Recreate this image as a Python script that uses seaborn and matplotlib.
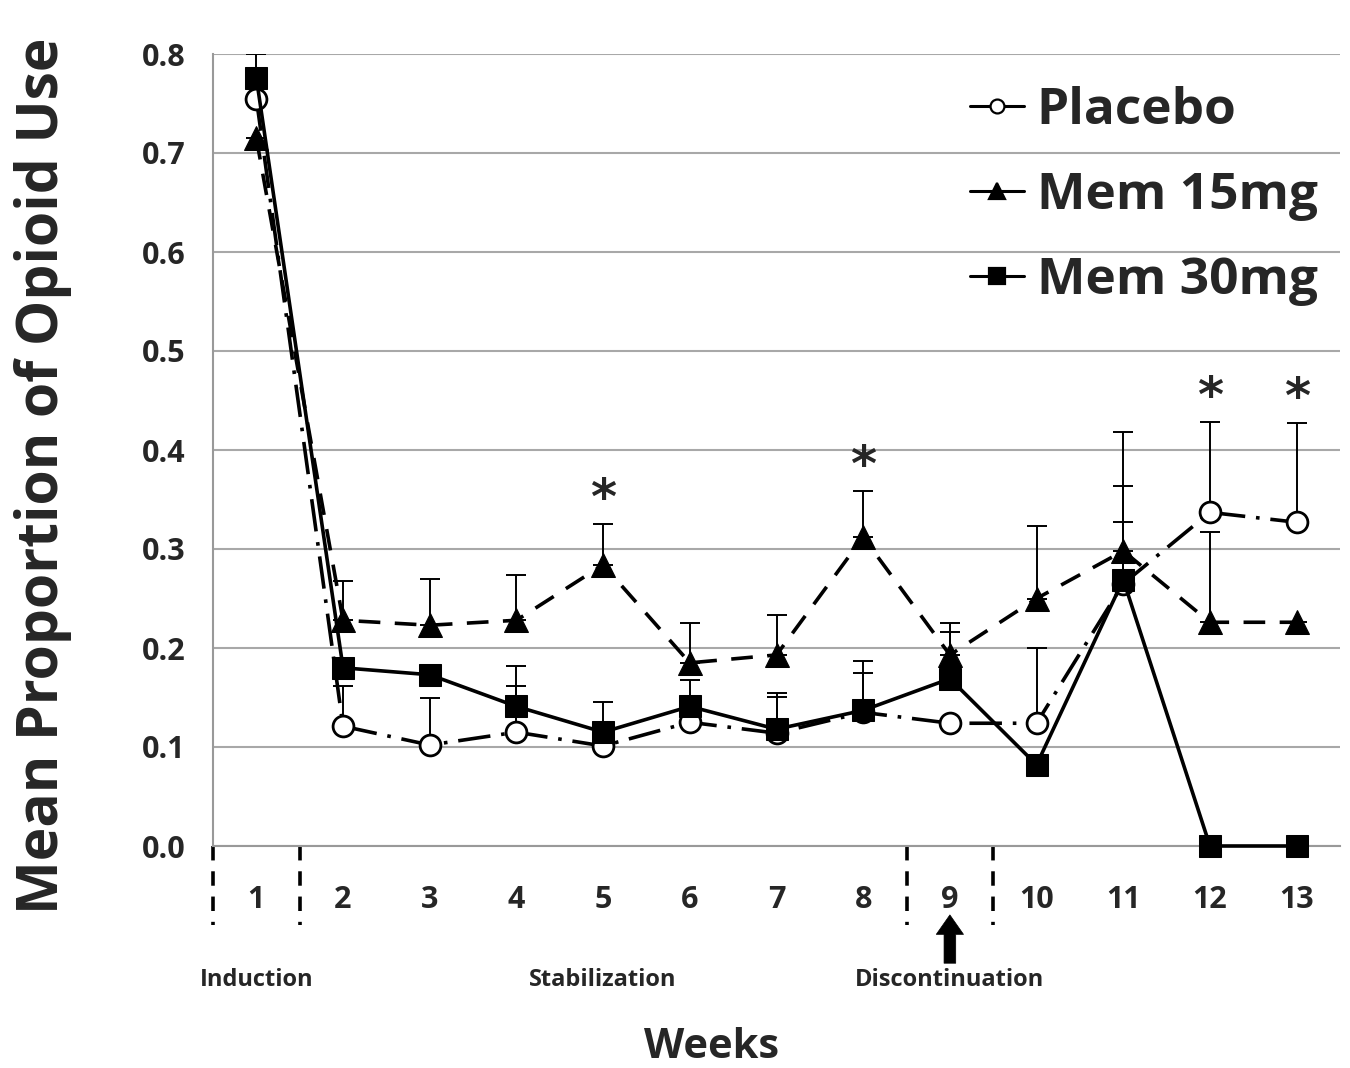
import numpy as np
import pandas as pd
import matplotlib
matplotlib.use("Agg")
import matplotlib.pyplot as plt
from matplotlib.lines import Line2D
import seaborn as sns

nan = np.nan
weeks = list(range(1, 14))
week_labels = [str(w) for w in weeks]
series_names = ["Placebo", "Mem 15mg", "Mem 30mg"]
placebo = [0.755, 0.121, 0.102, 0.115, 0.101, 0.125, 0.114, 0.135, 0.124, 0.124, 0.265, 0.337, 0.327]
mem15 = [0.715, 0.228, 0.223, 0.228, 0.284, 0.185, 0.193, 0.312, 0.193, 0.250, 0.298, 0.226, 0.226]
mem30 = [0.776, 0.180, 0.173, 0.141, 0.115, 0.141, 0.118, 0.137, 0.169, 0.082, 0.269, 0.000, 0.000]
# upper end of the error bars (nan = not visible)
placebo_top = [nan, 0.162, 0.150, 0.162, nan, 0.168, 0.151, 0.175, nan, 0.200, 0.364, 0.428, 0.427]
mem15_top = [nan, 0.268, 0.270, 0.274, 0.325, 0.225, 0.233, 0.359, 0.225, 0.323, 0.418, 0.317, nan]
mem30_top = [0.800, nan, nan, 0.182, 0.145, nan, 0.155, 0.187, 0.216, nan, 0.327, nan, nan]
signif_weeks = [5, 8, 12, 13]
phase_names = ["Induction", "Stabilization", "Discontinuation"]
phase_weeks = [1, 5, 9]
y_ticks = [0.0, 0.1, 0.2, 0.3, 0.4, 0.5, 0.6, 0.7, 0.8]

sns.set_theme(style="white")
plt.rcParams["font.family"] = ["Open Sans", "DejaVu Sans"]
plt.rcParams["font.weight"] = "bold"

fig = plt.figure(figsize=(13.5, 10.68), dpi=100)
ax = fig.add_axes([213 / 1350, 1 - 846 / 1068, (1340 - 213) / 1350, (846 - 54) / 1068])

df = pd.DataFrame({"week": weeks * 3,
                   "value": placebo + mem15 + mem30,
                   "group": sum([[n] * len(weeks) for n in series_names], [])})

styles = {
    "Placebo": dict(marker="o", markersize=15, markerfacecolor="white", markeredgecolor="black",
                    markeredgewidth=2, linestyle=(0, (9, 3, 1, 3))),
    "Mem 15mg": dict(marker="^", markersize=17, markerfacecolor="black", markeredgecolor="black",
                     linestyle=(0, (6, 4))),
    "Mem 30mg": dict(marker="s", markersize=16, markerfacecolor="black", markeredgecolor="black",
                     linestyle="-"),
}
for name in series_names:
    sub = df[df["group"] == name]
    sns.lineplot(data=sub, x="week", y="value", ax=ax, color="black", linewidth=2.6,
                 errorbar=None, zorder=3, clip_on=False, legend=False, **styles[name])

for vals, tops in [(placebo, placebo_top), (mem15, mem15_top), (mem30, mem30_top)]:
    v = np.array(vals)
    t = np.array(tops)
    up = t - v
    ax.errorbar(weeks, v, yerr=[np.zeros_like(v), up], fmt="none", ecolor="black",
                elinewidth=1.4, capsize=7, capthick=1.4, zorder=2)

# significance stars
all_tops = np.nanmax(np.vstack([placebo_top, mem15_top, mem30_top,
                                placebo, mem15, mem30]), axis=0)
for w in signif_weeks:
    ax.text(w, all_tops[w - 1], "*", ha="center", va="bottom", fontsize=36,
            fontweight="bold", family="DejaVu Sans")

ax.set_xlim(0.5, 13.5)
ax.set_ylim(0, 0.8)
ax.set_yticks(y_ticks)
ax.set_yticklabels([f"{t:.1f}" for t in y_ticks])
ax.set_xticks(weeks)
ax.set_xticklabels(week_labels)
ax.set_xticks(np.arange(2.5, 14, 1.0), minor=True)
ax.tick_params(axis="x", which="major", length=0, pad=28, labelsize=22)
ax.tick_params(axis="x", which="minor", length=9, width=1.2, color="#888888", direction="out")
ax.tick_params(axis="y", which="major", length=8, width=1.5, color="#999999", pad=12, labelsize=22)
for lab in ax.get_xticklabels() + ax.get_yticklabels():
    lab.set_fontweight("bold")

ax.yaxis.grid(True, color="#a8a8a8", linewidth=1.5)
ax.xaxis.grid(False)
for s in ["top", "right"]:
    ax.spines[s].set_visible(False)
for s in ["left", "bottom"]:
    ax.spines[s].set_color("#999999")
    ax.spines[s].set_linewidth(1.5)

ax.set_xlabel("")
ax.set_ylabel("Mean Proportion of Opioid Use", fontsize=41, fontweight="bold")
ax.yaxis.set_label_coords(-0.125, 0.468)

# phase separators below the axis
trans = ax.get_xaxis_transform()
for b in [phase_weeks[0] - 0.5, phase_weeks[0] + 0.5, phase_weeks[2] - 0.5, phase_weeks[2] + 0.5]:
    ax.plot([b, b], [0, -0.10], transform=trans, color="black", linewidth=2.6,
            linestyle=(0, (4, 3)), clip_on=False)
for name, w in zip(phase_names, phase_weeks):
    ax.text(w, -0.169, name, transform=trans, ha="center", va="center", fontsize=17,
            fontweight="bold")
ax.annotate("", xy=(phase_weeks[2], -0.087), xytext=(phase_weeks[2], -0.148),
            xycoords=trans, textcoords=trans,
            arrowprops=dict(arrowstyle="simple,head_width=1.4,head_length=1.0,tail_width=0.6",
                            facecolor="black", edgecolor="black", linewidth=0.5,
                            mutation_scale=14, shrinkA=0, shrinkB=0),
            annotation_clip=False)

fig.text(712 / 1350, 1 - 1047 / 1068, "Weeks", ha="center", va="center", fontsize=30,
         fontweight="bold")

handles = [Line2D([], [], color="black", linewidth=2.2, marker=m, markersize=ms,
                  markerfacecolor=fc, markeredgecolor="black", markeredgewidth=1.6)
           for m, ms, fc in [("o", 10, "white"), ("^", 11, "black"), ("s", 11, "black")]]
leg = ax.legend(handles, series_names, loc="upper right", bbox_to_anchor=(1.012, 1.005),
                frameon=False, fontsize=37, handlelength=1.05, handletextpad=0.25,
                labelspacing=0.68, borderaxespad=0.3)
for t in leg.get_texts():
    t.set_fontweight("bold")

fig.savefig("out.png", dpi=100)
